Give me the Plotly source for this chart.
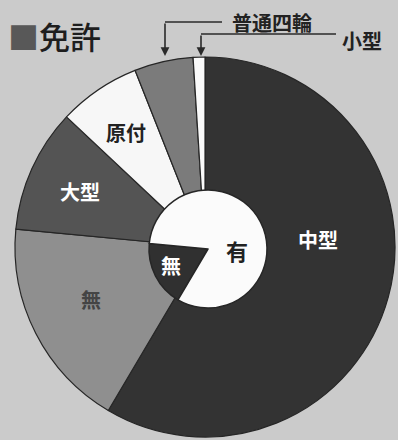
import plotly.graph_objects as go

# ---- data ----
outer_labels = ["中型", "無", "大型", "原付", "普通四輪", "小型"]
outer_values = [58.5, 18.0, 10.5, 7.0, 5.0, 1.0]
outer_colors = ["#333333", "#8f8f8f", "#545454", "#f7f7f7", "#7b7b7b", "#fafafa"]

inner_labels = ["無", "有"]
inner_values = [18.0, 82.0]
inner_colors = ["#303030", "#fbfbfb"]

W, H = 398, 440

def px(x):
    return x / W

def py(y):
    return 1 - y / H

fig = go.Figure()

# outer ring
fig.add_trace(go.Pie(
    labels=outer_labels, values=outer_values, sort=False,
    direction="clockwise", rotation=0,
    marker=dict(colors=outer_colors, line=dict(color="#262626", width=1.2)),
    textinfo="none", hoverinfo="label+value", showlegend=False,
    domain=dict(x=[px(15), px(395)], y=[py(437), py(57)]),
))

# inner pie: 無 starts where the outer 中型 slice ends
inner_rot = 360 * outer_values[0] / sum(outer_values)
fig.add_trace(go.Pie(
    labels=inner_labels, values=inner_values, sort=False,
    direction="clockwise", rotation=inner_rot,
    marker=dict(colors=inner_colors, line=dict(color="#262626", width=1.5)),
    textinfo="none", hoverinfo="label+value", showlegend=False,
    domain=dict(x=[px(149), px(267)], y=[py(308), py(190)]),
))

FONT = "Noto Sans CJK JP"
anns = []

def lab(text, x, y, color, size=20, weight=700):
    anns.append(dict(text=text, x=px(x), y=py(y), xref="paper", yref="paper",
                     showarrow=False, xanchor="center", yanchor="middle",
                     font=dict(family=FONT, size=size, color=color, weight=weight)))

# slice labels
lab(outer_labels[0], 318, 239, "#ffffff")
lab(outer_labels[1], 91, 299, "#444444")
lab(outer_labels[2], 80, 192, "#ffffff")
lab(outer_labels[3], 126, 132, "#222222")
lab(inner_labels[1], 237, 250, "#222222", size=22)
lab(inner_labels[0], 171, 265, "#ffffff")

# callout labels
lab(outer_labels[4], 272, 22, "#222222")
lab(outer_labels[5], 362, 41, "#222222")

# arrows (vertical part)
for xx, y0 in [(165, 22), (201, 34)]:
    anns.append(dict(text="", x=px(xx), y=py(56), xref="paper", yref="paper",
                     ax=0, ay=-(56 - y0), axref="pixel", ayref="pixel",
                     showarrow=True, arrowhead=2, arrowsize=1.1, arrowwidth=1.6,
                     arrowcolor="#2a2a2a", standoff=0))

# title
anns.append(dict(text="<span style='color:#585858'>■</span>免許", x=px(6), y=py(36),
                 xref="paper", yref="paper", showarrow=False,
                 xanchor="left", yanchor="middle",
                 font=dict(family=FONT, size=31, color="#1e1e1e", weight=500)))

shapes = [
    dict(type="line", xref="paper", yref="paper", x0=px(165), x1=px(222), y0=py(22), y1=py(22),
         line=dict(color="#2a2a2a", width=1.6)),
    dict(type="line", xref="paper", yref="paper", x0=px(201), x1=px(336), y0=py(34), y1=py(34),
         line=dict(color="#2a2a2a", width=1.6)),
]

fig.update_layout(
    width=W, height=H,
    margin=dict(l=0, r=0, t=0, b=0),
    paper_bgcolor="#cbcbcb", plot_bgcolor="#cbcbcb",
    annotations=anns, shapes=shapes,
)

fig.write_html("out.html", config={"displayModeBar": False})
